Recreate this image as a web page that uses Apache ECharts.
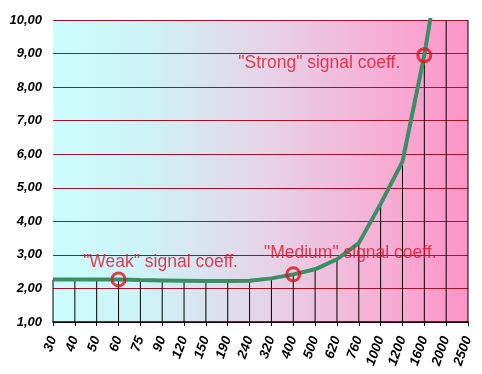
<!DOCTYPE html>
<html>
<head>
<meta charset="utf-8">
<script src="https://cdn.jsdelivr.net/npm/echarts@6/dist/echarts.min.js"></script>
<style>
html,body{margin:0;padding:0;background:#fff;}
#c{width:482px;height:374px;}
</style>
</head>
<body>
<div id="c"></div>
<script>
var categories = ['30','40','50','60','75','90','120','150','190','240','320','400','500','620','760','1000','1200','1600','2000','2500'];
var coeffValues = [2.27,2.27,2.27,2.27,2.25,2.24,2.23,2.22,2.22,2.23,2.30,2.42,2.57,2.87,3.35,4.52,5.78,8.95,12.9,18];
var yTicks = [1,2,3,4,5,6,7,8,9,10];
var markerCats = ['60','400','1600'];
var markerValues = [2.27,2.42,8.95];
var markerTexts = ['"Weak" signal coeff.','"Medium" signal coeff.','"Strong" signal coeff.'];
var markerOffsets = [[42,-17],[57,-21],[-105,8]];

var chart = echarts.init(document.getElementById('c'), null, {renderer:'canvas'});
var yMin = yTicks[0], yMax = yTicks[yTicks.length-1];
var dropData = coeffValues.map(function(v){ return Math.min(v, yMax); });
var markerData = markerCats.map(function(c,i){
  return {
    value:[c, markerValues[i]],
    label:{show:true, formatter: markerTexts[i], offset: markerOffsets[i]}
  };
});
chart.setOption({
  animation:false,
  backgroundColor:'#ffffff',
  grid:{left:53,right:14,top:20,bottom:52,show:true,borderWidth:0,
    backgroundColor:{type:'linear',x:0,y:0,x2:1,y2:0,colorStops:[
      {offset:0,color:'#ccfdfd'},{offset:0.22,color:'#cdf3f7'},{offset:0.5,color:'#e5d5e8'},
      {offset:0.78,color:'#f6b0d6'},{offset:1,color:'#ff94c8'}]}},
  xAxis:{type:'category',data:categories,boundaryGap:false,
    axisLine:{show:true,lineStyle:{color:'#000',width:1.5}},
    axisTick:{show:true,length:4,lineStyle:{color:'#000'}},
    splitLine:{show:false},
    axisLabel:{rotate:70,interval:0,margin:15,color:'#000',fontFamily:'Liberation Sans',fontWeight:'bold',fontStyle:'italic',fontSize:13.5}
  },
  yAxis:{type:'value',min:yMin,max:yMax,interval:1,
    axisLine:{show:false},axisTick:{show:false},
    splitLine:{show:true,lineStyle:{color:'#a8102c',width:1}},
    axisLabel:{margin:11,color:'#000',fontFamily:'Liberation Sans',fontWeight:'bold',fontStyle:'italic',fontSize:13,
      formatter:function(v){return v.toFixed(2).replace('.',',');}}
  },
  series:[
    {type:'bar',data:dropData,barWidth:1,itemStyle:{color:'#000'},silent:true,z:2},
    {type:'line',data:coeffValues,symbol:'none',lineStyle:{color:'#3a8e68',width:4},clip:true,z:3},
    {type:'scatter',data:markerData,symbol:'circle',symbolSize:13,z:5,
      itemStyle:{color:'rgba(0,0,0,0)',borderColor:'#e0101c',borderWidth:3},
      label:{color:'#e0102a',fontFamily:'Liberation Sans',fontSize:17.5,position:'inside'}}
  ]
});
</script>
</body>
</html>
